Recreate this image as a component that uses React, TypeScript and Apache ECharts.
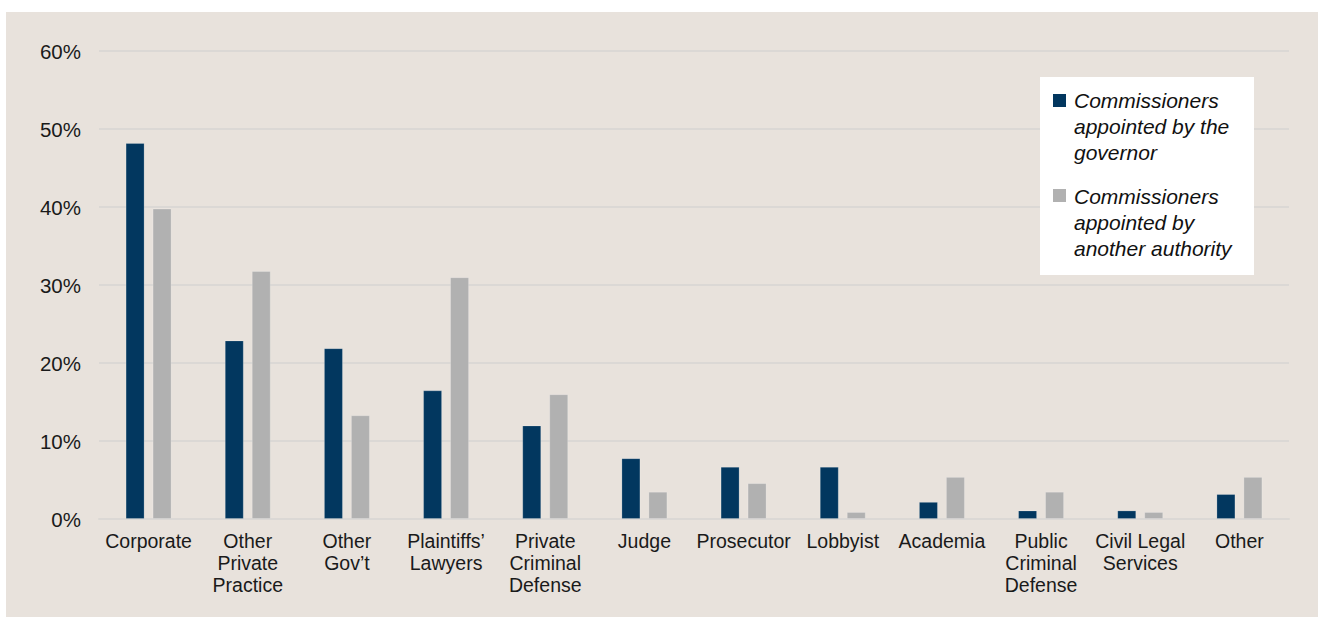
import React, { useEffect, useRef } from "react";
import * as echarts from "echarts";

const categories = [
  "Corporate",
  "Other\nPrivate\nPractice",
  "Other\nGov\u2019t",
  "Plaintiffs\u2019\nLawyers",
  "Private\nCriminal\nDefense",
  "Judge",
  "Prosecutor",
  "Lobbyist",
  "Academia",
  "Public\nCriminal\nDefense",
  "Civil Legal\nServices",
  "Other",
];

const governorValues = [48.2, 22.9, 21.9, 16.5, 12.0, 7.8, 6.7, 6.7, 2.2, 1.1, 1.1, 3.2];
const otherAuthorityValues = [39.8, 31.8, 13.3, 31.0, 16.0, 3.5, 4.6, 0.9, 5.4, 3.5, 0.9, 5.4];

const seriesNames = [
  "Commissioners appointed by the governor",
  "Commissioners appointed by another authority",
];
const legendLines = [
  "Commissioners\nappointed by the\ngovernor",
  "Commissioners\nappointed by\nanother authority",
];

const yTicks = [0, 10, 20, 30, 40, 50, 60];

const DARK = "#02375f";
const GRAY = "#b1b1b1";
const BG = "#e8e2dc";
const GRID = "#dbd8d5";
const FONT = "'Liberation Sans', Arial, sans-serif";

export default function App() {
  const ref = useRef<HTMLDivElement>(null);

  useEffect(() => {
    if (!ref.current) return;
    const chart = echarts.init(ref.current, undefined, { renderer: "svg" });
    chart.setOption({
      animation: false,
      backgroundColor: BG,
      textStyle: { fontFamily: FONT },
      grid: { left: 93, right: 29, top: 39, bottom: 98, containLabel: false },
      xAxis: {
        type: "category",
        data: categories,
        axisLine: { show: true, lineStyle: { color: GRID, width: 2 } },
        axisTick: { show: false },
        axisLabel: {
          interval: 0,
          color: "#1a1a1a",
          fontSize: 19.5,
          lineHeight: 22,
          margin: 11,
          fontFamily: FONT,
        },
      },
      yAxis: {
        type: "value",
        min: yTicks[0],
        max: yTicks[yTicks.length - 1],
        interval: 10,
        axisLine: { show: false },
        axisTick: { show: false },
        splitLine: { lineStyle: { color: GRID, width: 2 } },
        axisLabel: {
          color: "#1a1a1a",
          fontSize: 20.5,
          margin: 18,
          fontFamily: FONT,
          formatter: (v: number) => `${v}%`,
        },
      },
      legend: { show: false },
      series: [
        {
          name: seriesNames[0],
          type: "bar",
          data: governorValues,
          barWidth: 19,
          barGap: "42%",
          itemStyle: { color: DARK, borderColor: "rgba(255,255,255,0.2)", borderWidth: 1 },
        },
        {
          name: seriesNames[1],
          type: "bar",
          data: otherAuthorityValues,
          barWidth: 19,
          barGap: "42%",
          itemStyle: { color: GRAY, borderColor: "rgba(255,255,255,0.2)", borderWidth: 1 },
        },
      ],
      graphic: [
        {
          type: "rect",
          shape: { x: 1034, y: 65, width: 214, height: 198 },
          style: { fill: "#ffffff" },
          z: 10,
        },
        {
          type: "rect",
          shape: { x: 1047, y: 82, width: 13, height: 13 },
          style: { fill: DARK },
          z: 11,
        },
        {
          type: "text",
          x: 1068,
          y: 75,
          style: {
            text: legendLines[0],
            font: `italic 21px ${FONT}`,
            fill: "#111111",
            lineHeight: 26,
            verticalAlign: "top",
          },
          z: 11,
        },
        {
          type: "rect",
          shape: { x: 1047, y: 177, width: 13, height: 13 },
          style: { fill: GRAY },
          z: 11,
        },
        {
          type: "text",
          x: 1068,
          y: 171,
          style: {
            text: legendLines[1],
            font: `italic 21px ${FONT}`,
            fill: "#111111",
            lineHeight: 26,
            verticalAlign: "top",
          },
          z: 11,
        },
      ],
    });
    return () => chart.dispose();
  }, []);

  return (
    <div style={{ position: "absolute", left: 0, top: 0, width: 1318, height: 617, background: "#ffffff" }}>
      <div ref={ref} style={{ position: "absolute", left: 6, top: 12, width: 1312, height: 605 }} />
    </div>
  );
}
